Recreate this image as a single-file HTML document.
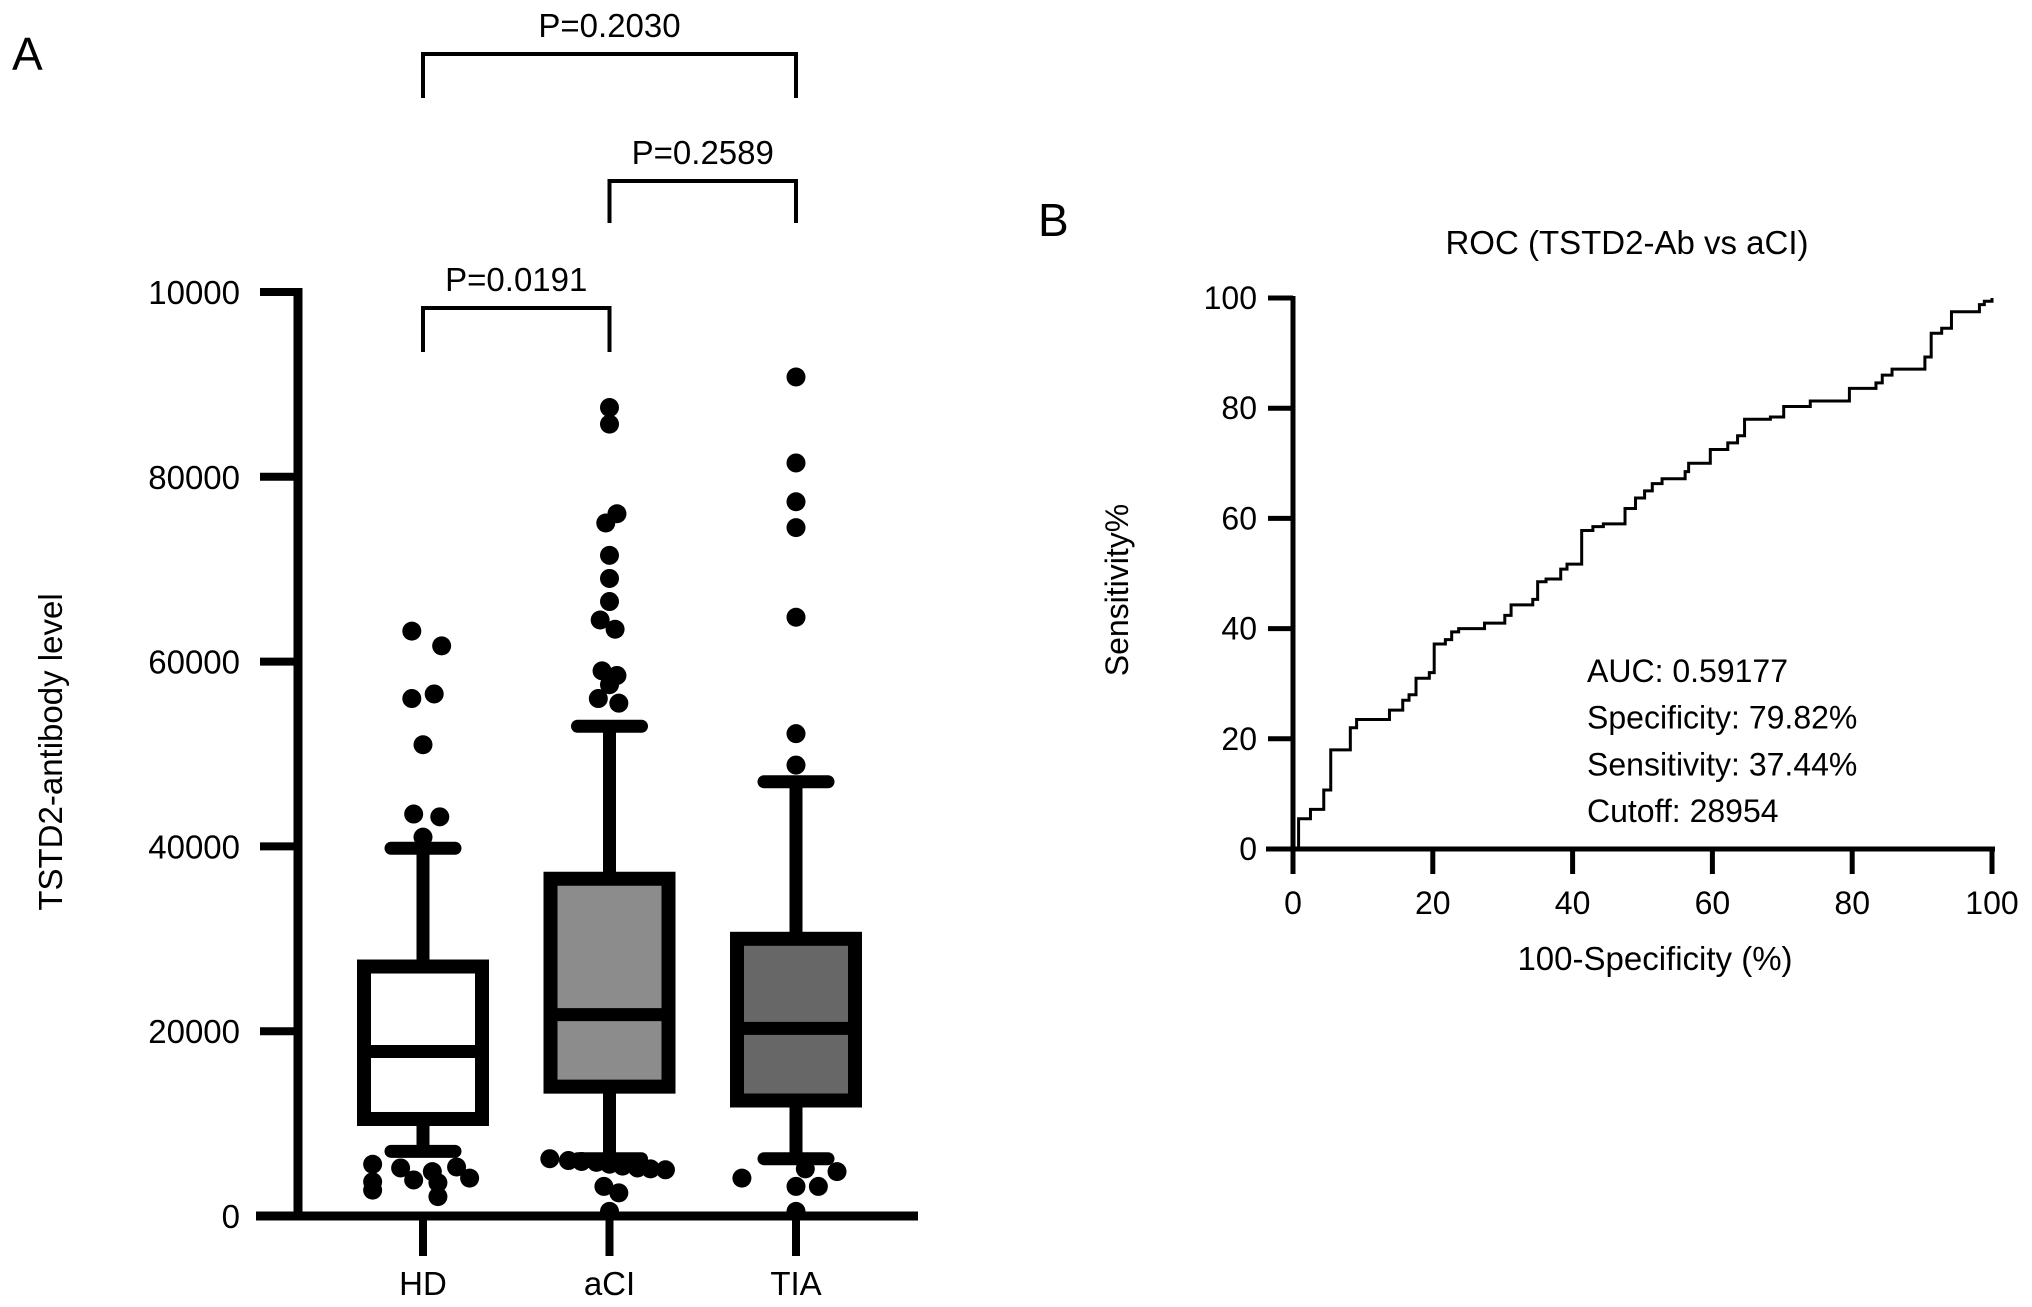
<!DOCTYPE html>
<html><head><meta charset="utf-8"><style>
html,body{margin:0;padding:0;background:#fff;}
svg{display:block;font-family:"Liberation Sans",Arial,sans-serif;}
</style></head><body>
<svg id="fig" width="2032" height="1307" viewBox="0 0 2032 1307" xmlns="http://www.w3.org/2000/svg">
<text x="12" y="70" font-size="46">A</text>
<text x="1038" y="236" font-size="46">B</text>
<g id="boxplot"></g>
<g id="roc"></g>
</svg>
<script>
const NS="http://www.w3.org/2000/svg";
function mk(p,tag,at,txt){const e=document.createElementNS(NS,tag);for(const k in at)e.setAttribute(k,at[k]);if(txt!==undefined)e.textContent=txt;p.appendChild(e);return e;}

// ---- Panel A data ----
const groups=["HD","aCI","TIA"];
const fills=["#ffffff","#8c8c8c","#676767"];
const q1=[10500,14000,12500];
const med=[17800,21800,20300];
const q3=[27000,36500,30000];
const wLo=[7000,6200,6200];
const wHi=[39800,53000,47000];
const yTicks=[0,20000,40000,60000,80000,100000];
const yTickLabels=["0","20000","40000","60000","80000","10000"];
const outHD=[63300,61700,56000,56500,51000,43500,43200,41000,5600,5200,4800,5300,3700,3900,3600,2800,2100,4100];
const outHDdx=[-0.06,0.1,-0.06,0.06,0,-0.05,0.09,0,-0.27,-0.12,0.05,0.18,-0.27,-0.05,0.08,-0.27,0.08,0.25];
const outACI=[87500,85700,76000,75000,71500,69000,66500,64500,63500,59000,58500,57500,56000,55500,6200,6000,5900,5800,5600,5400,5200,5100,5000,3200,2500,500];
const outACIdx=[0,0,0.04,-0.02,0,0,0,-0.05,0.03,-0.04,0.04,0,-0.06,0.05,-0.32,-0.22,-0.15,-0.07,0,0.07,0.15,0.22,0.3,-0.03,0.05,0];
const outTIA=[90800,81500,77300,74500,64800,52200,48800,5100,4800,4100,3200,3200,500];
const outTIAdx=[0,0,0,0,0,0,0,0.05,0.22,-0.29,0,0.12,0];
const outs=[outHD,outACI,outTIA];
const outDx=[outHDdx,outACIdx,outTIAdx];
const pLabels=["P=0.0191","P=0.2589","P=0.2030"];
const pFrom=[0,1,0], pTo=[1,2,2];

const A=document.getElementById('boxplot');
const yA=v=>1216-v*0.00924;
const xA=i=>423+i*186.5;
const bw=118;
yTicks.forEach((t,i)=>{
  const tk=mk(A,'line',{x1:260,x2:298,y1:yA(t),y2:yA(t),stroke:'#000','stroke-width':8});
  
  
  const lb=mk(A,'text',{x:240,y:yA(t)+12,'font-size':33,'text-anchor':'end'},yTickLabels[i]);
  
  
});
const ya=mk(A,'line',{x1:298,x2:298,y1:288,y2:1220,stroke:'#000','stroke-width':9});


const xa=mk(A,'line',{x1:256,x2:918,y1:1216,y2:1216,stroke:'#000','stroke-width':9});


const yt=mk(A,'text',{x:0,y:0,'font-size':33,'text-anchor':'middle',transform:'translate(62,752) rotate(-90)'},'TSTD2-antibody level');


groups.forEach((g,i)=>{
  const cx=xA(i);
  const tk=mk(A,'line',{x1:cx,x2:cx,y1:1216,y2:1256,stroke:'#000','stroke-width':8});
  
  
  const lb=mk(A,'text',{x:cx,y:1295,'font-size':33,'text-anchor':'middle'},g);
  
  
  const w=mk(A,'line',{x1:cx,x2:cx,y1:yA(wLo[i]),y2:yA(wHi[i]),stroke:'#000','stroke-width':13});
  
  
  [wLo[i],wHi[i]].forEach(v=>{
    const c=mk(A,'line',{x1:cx-32,x2:cx+32,y1:yA(v),y2:yA(v),stroke:'#000','stroke-width':13,'stroke-linecap':'round'});
    
    
  });
  const b=mk(A,'rect',{x:cx-bw/2,y:yA(q3[i]),width:bw,height:yA(q1[i])-yA(q3[i]),fill:fills[i],stroke:'#000','stroke-width':14});
  
  
  const m=mk(A,'line',{x1:cx-bw/2,x2:cx+bw/2,y1:yA(med[i]),y2:yA(med[i]),stroke:'#000','stroke-width':13});
  
  
  outs[i].forEach((v,j)=>{
    const d=mk(A,'circle',{cx:cx+outDx[i][j]*186.5,cy:yA(v),r:9.5,fill:'#000'});
    
    
  });
});
const brTop=[308,181,54], brBot=[352,223,98];
pLabels.forEach((p,k)=>{
  const x1=xA(pFrom[k]),x2=xA(pTo[k]);
  const br=mk(A,'path',{d:`M${x1},${brBot[k]}V${brTop[k]}H${x2}V${brBot[k]}`,fill:'none',stroke:'#000','stroke-width':4});
  
  
  const t=mk(A,'text',{x:(x1+x2)/2,y:brTop[k]-17,'font-size':33,'text-anchor':'middle'},p);
  
  
});

// ---- Panel B data ----
const rocX=[0.8,2.5,4.4,5.4,8.2,9.1,13.8,15.7,16.6,17.6,19.5,20.2,21.8,22.7,23.7,27.4,30.3,31.2,34.3,35,36.2,38.3,39.2,41.3,42.9,44.4,47.5,49,50.3,51.4,52.8,56.1,56.6,59.7,62.2,63.6,64.6,68.3,70.2,74,79.6,83.4,84.3,85.7,90.4,91.3,92.8,94.2,98.2,98.9,100];
const rocY=[5.5,7.2,10.7,18,22,23.5,25.2,27,28,31,32,37.2,38,39.4,40,41,42.4,44.3,45.3,48.5,49,50.8,51.7,57.8,58.5,59,61.8,63.7,65,66.3,67.2,68.5,70,72.5,73.7,75,78,78.4,80.3,81.3,83.6,84.6,86,87.1,89.3,93.6,94.5,97.5,98.8,99.4,100];
const rTicks=[0,20,40,60,80,100];
const annot=["AUC: 0.59177","Specificity: 79.82%","Sensitivity: 37.44%","Cutoff: 28954"];

const B=document.getElementById('roc');
const xB=v=>1293+v*6.99;
const yB=v=>849-v*5.51;
rTicks.forEach(t=>{
  const a=mk(B,'line',{x1:1268,x2:1293,y1:yB(t),y2:yB(t),stroke:'#000','stroke-width':5});
  
  
  const al=mk(B,'text',{x:1257,y:yB(t)+11,'font-size':32,'text-anchor':'end'},String(t));
  
  
  const b=mk(B,'line',{x1:xB(t),x2:xB(t),y1:849,y2:874,stroke:'#000','stroke-width':5});
  
  
  const bl=mk(B,'text',{x:xB(t),y:914,'font-size':32,'text-anchor':'middle'},String(t));
  
  
});
const ry=mk(B,'line',{x1:1293,x2:1293,y1:296,y2:852,stroke:'#000','stroke-width':5});


const rx=mk(B,'line',{x1:1266,x2:1995,y1:849,y2:849,stroke:'#000','stroke-width':5});


let d=`M${xB(0)},${yB(0)}`;
rocX.forEach((x,i)=>{d+=`H${xB(x)}V${yB(rocY[i])}`;});
const curve=mk(B,'path',{d:d,fill:'none',stroke:'#000','stroke-width':3});


const tt=mk(B,'text',{x:1627,y:254,'font-size':33,'text-anchor':'middle'},'ROC (TSTD2-Ab vs aCI)');


const xt=mk(B,'text',{x:1655,y:970,'font-size':33,'text-anchor':'middle'},'100-Specificity (%)');


const ytt=mk(B,'text',{x:0,y:0,'font-size':32,'text-anchor':'middle',transform:'translate(1128,590) rotate(-90)'},'Sensitivity%');


annot.forEach((s,i)=>{
  const t=mk(B,'text',{x:1587,y:682+i*46.7,'font-size':32},s);
  
  
});
</script>
</body></html>
